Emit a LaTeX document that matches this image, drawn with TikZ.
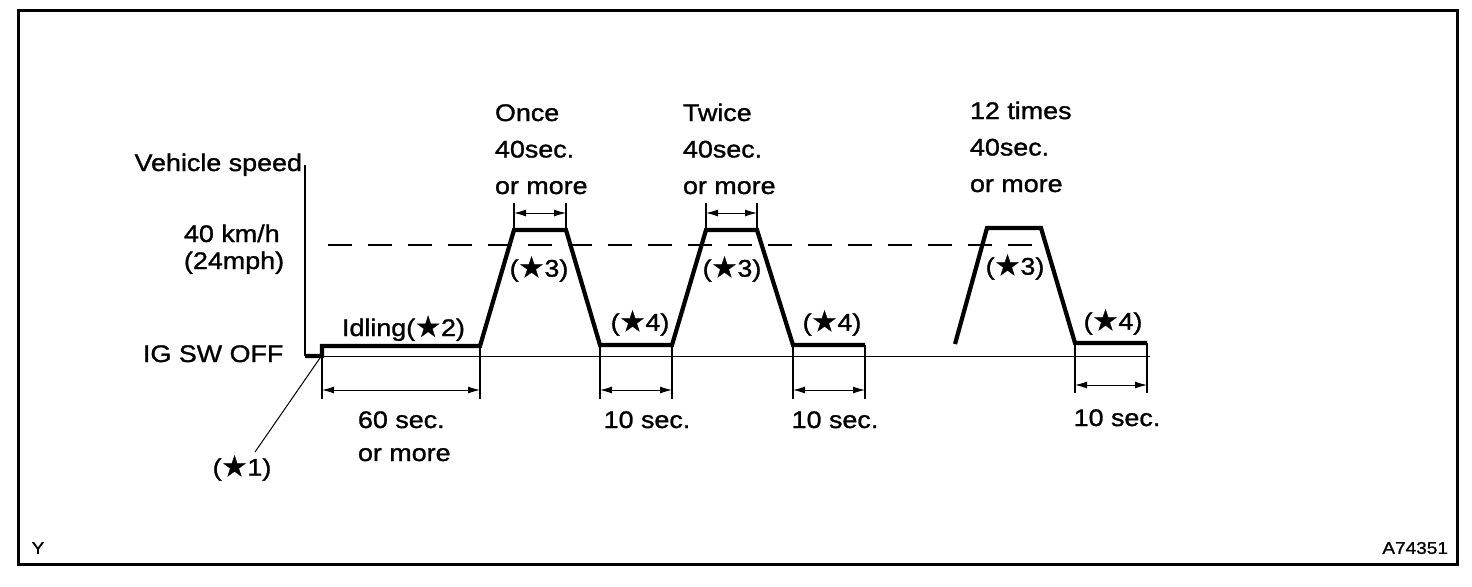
\documentclass[tikz,border=0pt]{standalone}
\usepackage{fontspec}
\setmainfont[FakeStretch=1.12,FakeBold=1.2]{Liberation Sans}
\newfontfamily\symfont[FakeBold=1]{DejaVu Sans}
\usetikzlibrary{arrows.meta}
\newcommand{\bstar}{{\symfont\raisebox{-0.3pt}{\scalebox{1.2}{\char"2605}}}}
\begin{document}
\begin{tikzpicture}[x=0.5pt,y=-0.5pt,
  font=\fontsize{12}{18.25}\selectfont,
  lbl/.style={inner sep=0pt, outer sep=0pt},
  speedline/.style={line width=2.1pt, line join=miter},
  thinline/.style={line width=0.5pt},
  extline/.style={line width=0.8pt},
  dimline/.style={line width=0.5pt, {Latex[length=6pt,width=3.5pt]}-{Latex[length=6pt,width=3.5pt]}},
  refline/.style={line width=0.6pt, dash pattern=on 12pt off 8pt}]
\useasboundingbox (0,0) rectangle (1472,586);
\draw[line width=1.5pt] (18,10) rectangle (1457,564);

% axis and baseline
\coordinate (axtop) at (305,165);
\coordinate (axbot) at (305,356);
\coordinate (baseend) at (1150,356);
\draw[line width=0.8pt] (axtop) -- (axbot);
\draw[thinline] (axbot) -- (baseend);
% 40 km/h reference
\coordinate (refa) at (328,245);
\coordinate (refb) at (1042,245);
\draw[refline] (refa) -- (refb);

% speed profile
\coordinate (p0) at (305,356);
\coordinate (p1) at (322,356);
\coordinate (p2) at (322,346);
\coordinate (p3) at (480,346);
\coordinate (p4) at (514,230);
\coordinate (p5) at (566,230);
\coordinate (p6) at (600,345);
\coordinate (p7) at (672,345);
\coordinate (p8) at (706,230);
\coordinate (p9) at (757,230);
\coordinate (p10) at (793,345);
\coordinate (p11) at (865,345);
\draw[speedline] (p0) -- (p1) -- (p2) -- (p3) -- (p4) -- (p5) -- (p6) -- (p7) -- (p8) -- (p9) -- (p10) -- (p11);
\coordinate (q0) at (955,344);
\coordinate (q1) at (987,228);
\coordinate (q2) at (1041,228);
\coordinate (q3) at (1075,343);
\coordinate (q4) at (1147,343);
\draw[speedline] (q0) -- (q1) -- (q2) -- (q3) -- (q4);

% lower extension lines and dimensions
\foreach \n/\x/\y in {a/322/356, b/480/346, c/600/345, d/672/345, e/793/345, f/865/345}{
  \coordinate (e\n1) at (\x,\y);
  \coordinate (e\n2) at (\x,399);
  \coordinate (d\n) at (\x,390);
  \draw[extline] (e\n1) -- (e\n2);
}
\foreach \n/\x in {g/1075, h/1147}{
  \coordinate (e\n1) at (\x,343);
  \coordinate (e\n2) at (\x,393);
  \coordinate (d\n) at (\x,385);
  \draw[extline] (e\n1) -- (e\n2);
}
\draw[dimline] (da) -- (db);
\draw[dimline] (dc) -- (dd);
\draw[dimline] (de) -- (df);
\draw[dimline] (dg) -- (dh);

% upper extension lines and dimensions
\foreach \n/\x in {i/514, j/566, k/706, l/757}{
  \coordinate (e\n1) at (\x,203);
  \coordinate (e\n2) at (\x,230);
  \coordinate (d\n) at (\x,213);
  \draw[extline] (e\n1) -- (e\n2);
}
\draw[dimline] (di) -- (dj);
\draw[dimline] (dk) -- (dl);

% labels
\node[lbl, anchor=base east] (vs) at (302,171) {Vehicle speed};
\node[lbl, anchor=base west, align=left, font=\fontsize{12}{13.5}\selectfont] (kmh) at (184,269) {40 km/h\\(24mph)};
\node[lbl, anchor=base west] (igoff) at (143,362) {IG SW OFF};
\node[lbl, anchor=base west] (idle) at (342,336) {Idling(\bstar2)};

\node[lbl, anchor=base west, align=left] (once) at (495,194) {Once\\40sec.\\or more};
\node[lbl, anchor=base west, align=left] (twice) at (683,194) {Twice\\40sec.\\or more};
\node[lbl, anchor=base west, align=left] (twelve) at (970,192) {12 times\\40sec.\\or more};

\node[lbl] (s3a) at (539,269) {(\bstar3)};
\node[lbl] (s3b) at (732,269) {(\bstar3)};
\node[lbl] (s3c) at (1015,267) {(\bstar3)};
\node[lbl] (s4a) at (640,323) {(\bstar4)};
\node[lbl] (s4b) at (832,323) {(\bstar4)};
\node[lbl] (s4c) at (1113,322) {(\bstar4)};

\node[lbl, anchor=base west, align=left, font=\fontsize{12}{16.5}\selectfont] (sixty) at (358,461) {60 sec.\\or more};
\node[lbl, anchor=base] (ten1) at (647,428) {10 sec.};
\node[lbl, anchor=base] (ten2) at (835,428) {10 sec.};
\node[lbl, anchor=base] (ten3) at (1117,426) {10 sec.};

\node[lbl] (s1) at (242,468) {(\bstar1)};
\coordinate (s1end) at (320,358);
\draw[thinline] (255,452) -- (s1end);

\node[lbl, font=\fontsize{8.5}{10}\selectfont] (ycode) at (38,548) {Y};
\node[lbl, anchor=east, font=\fontsize{8.5}{10}\selectfont] (fig) at (1448,548) {A74351};
\end{tikzpicture}
\end{document}
